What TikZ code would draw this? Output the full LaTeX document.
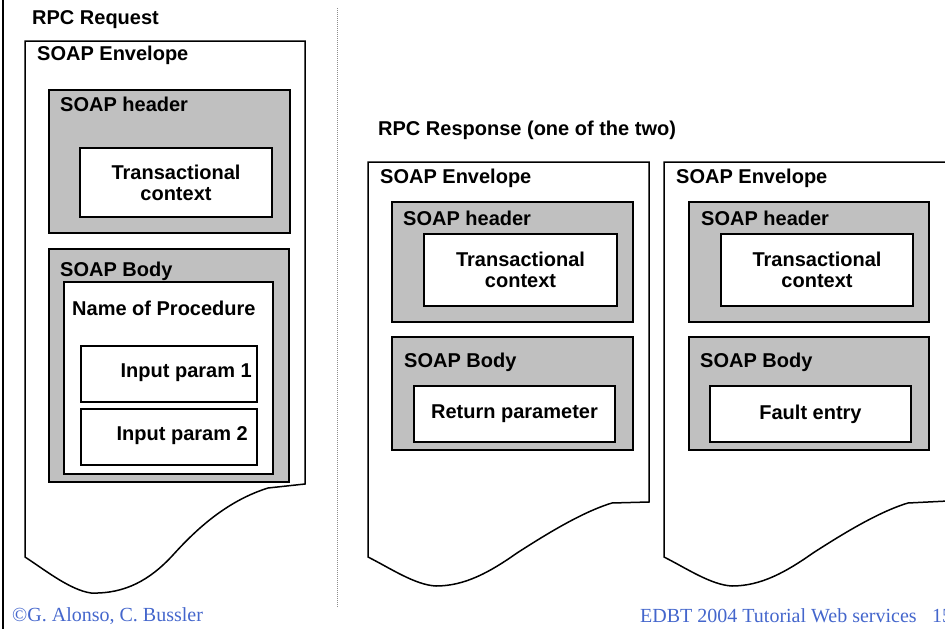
\documentclass[tikz,border=0pt]{standalone}
\usepackage{fontspec}
\usepackage{xcolor}
\usetikzlibrary{positioning}
\newfontfamily\boxfont{Liberation Sans}
\newfontfamily\footfont{Liberation Serif}
\definecolor{soapgray}{RGB}{192,192,192}
\definecolor{footblue}{RGB}{68,102,204}
\definecolor{dotgray}{RGB}{140,140,140}

\begin{document}
\begin{tikzpicture}[
    x=1pt, y=-1pt,
    envl/.style={draw, line width=1.5pt, fill=white},
    sect/.style={draw, line width=1.5pt, fill=soapgray, inner sep=0pt, outer sep=0pt},
    inbox/.style={draw, line width=1.5pt, fill=white, inner sep=0pt, outer sep=0pt,
                  align=center, font=\boxfont\bfseries\fontsize{20}{21}\selectfont},
    lbl/.style={anchor=west, inner sep=0pt, font=\boxfont\bfseries\fontsize{20}{21}\selectfont},
    foot/.style={anchor=west, inner sep=0pt, text=footblue, font=\footfont\fontsize{20}{22}\selectfont}
]
\useasboundingbox (0,0) rectangle (945,629);

% left frame line and the dotted divider
\draw[line width=2.5pt] (3,0) -- (3,629);
\draw[dotgray, line width=1pt, dash pattern=on 1pt off 1pt] (337,8) -- (337,608);

% ---- RPC request ----
\node[lbl] (req) at (32,20) {RPC Request};
\draw[envl] (25,41) -- (305,41) -- (305,484) -- (268,488)
    .. controls (230,500) and (200,525) .. (173,555)
    .. controls (150,580) and (125,594) .. (91,593)
    .. controls (70,590) and (45,570) .. (25,557) -- cycle;
\node[lbl] (envA) at (37,55) {SOAP Envelope};

\node[sect, minimum width=241pt, minimum height=143pt] (hdrA) at (169.5,161.5) {};
\node[lbl] (hdrAl) at (60,104) {SOAP header};
\node[inbox, minimum width=192pt, minimum height=69pt] (ctxA) at (176,182.5) {Transactional\\context};

\node[sect, minimum width=240pt, minimum height=233pt] (bodyA) at (169,365.5) {};
\node[lbl] (bodyAl) at (60,271) {SOAP Body};
\node[inbox, minimum width=209pt, minimum height=192pt] (proc) at (168.5,378) {};
\node[lbl] (procl) at (72,308) {Name of Procedure};
\node[inbox, minimum width=176pt, minimum height=56pt] (parA) at (169,374) {};
\node[lbl, anchor=east] (parAl) at (252,373) {Input param 1};
\node[inbox, minimum width=176pt, minimum height=56pt] (parB) at (169,437) {};
\node[lbl, anchor=east] (parBl) at (248,436) {Input param 2};

% ---- RPC response, normal case ----
\node[lbl] (resp) at (378,130) {RPC Response (one of the two)};
\draw[envl] (368,162) -- (649,162) -- (649,502) -- (612,503)
    .. controls (582,512) and (545,535) .. (517,553)
    .. controls (490,572) and (465,586) .. (436,586)
    .. controls (415,585) and (390,568) .. (368,557) -- cycle;
\node[lbl] (envB) at (380,178) {SOAP Envelope};

\node[sect, minimum width=241pt, minimum height=120pt] (hdrB) at (512.5,262) {};
\node[lbl] (hdrBl) at (403,218) {SOAP header};
\node[inbox, minimum width=193pt, minimum height=72pt] (ctxB) at (520.5,270) {Transactional\\context};

\node[sect, minimum width=241pt, minimum height=113pt] (bodyB) at (512.5,393.5) {};
\node[lbl] (bodyBl) at (404,362) {SOAP Body};
\node[inbox, minimum width=201pt, minimum height=56pt] (ret) at (514.5,414) {Return parameter};

% ---- RPC response, fault case ----
\draw[envl] (664,162) -- (948,162) -- (948,501) -- (908,503)
    .. controls (878,512) and (841,535) .. (813,553)
    .. controls (786,572) and (761,586) .. (732,586)
    .. controls (711,585) and (686,568) .. (664,557) -- cycle;
\node[lbl] (envC) at (676,178) {SOAP Envelope};

\node[sect, minimum width=240pt, minimum height=120pt] (hdrC) at (809,262) {};
\node[lbl] (hdrCl) at (701,218) {SOAP header};
\node[inbox, minimum width=192pt, minimum height=72pt] (ctxC) at (817,270) {Transactional\\context};

\node[sect, minimum width=240pt, minimum height=113pt] (bodyC) at (809,393.5) {};
\node[lbl] (bodyCl) at (700,362) {SOAP Body};
\node[inbox, minimum width=201pt, minimum height=56pt] (fault) at (810.5,414) {Fault entry};

% footer
\node[foot] (copy) at (12,616) {\textcopyright G. Alonso, C. Bussler};
\node[foot] (event) at (640,616) {EDBT 2004 Tutorial Web services};
\node[foot] (page) at (932,616) {15};
\end{tikzpicture}
\end{document}
